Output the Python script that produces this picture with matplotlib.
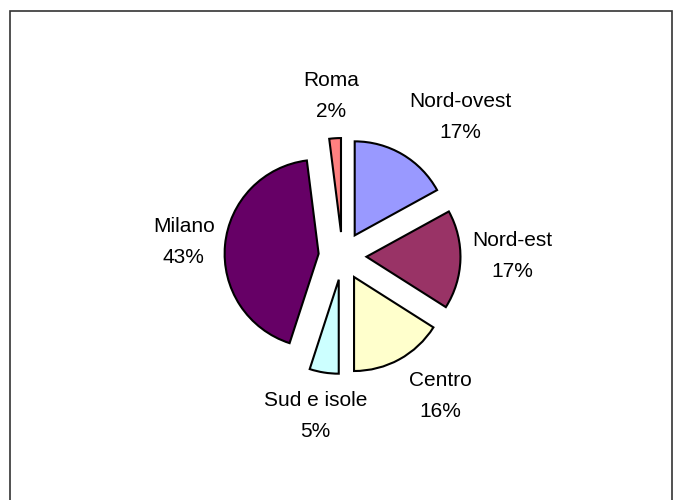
import matplotlib
matplotlib.use('Agg')
import matplotlib.pyplot as plt
from matplotlib.patches import Rectangle

# dati
zone = ['Nord-ovest', 'Nord-est', 'Centro', 'Sud e isole', 'Milano', 'Roma']
quote = [17, 17, 16, 5, 43, 2]
colori = ['#9999FF', '#993366', '#FFFFCC', '#CCFFFF', '#660066', '#FF8080']

# posizione etichette (unita' del grafico, raggio = 1)
pos_etichette = [(1.25, 1.48), (1.81, 0.0), (1.04, -1.49),
                 (-0.29, -1.70), (-1.69, 0.15), (-0.12, 1.70)]

plt.rcParams['font.family'] = ['Liberation Sans', 'DejaVu Sans']

fig = plt.figure(figsize=(6.75, 5), dpi=100)
ax = fig.add_axes([0, 0, 1, 1])

ax.pie(quote, colors=colori, startangle=90, counterclock=False,
       explode=[0.255] * len(quote), radius=1,
       wedgeprops=dict(edgecolor='black', linewidth=1.5))

scala = 94.0
cx, cy = 342.5, 256.0
ax.set_xlim(-cx / scala, (675 - cx) / scala)
ax.set_ylim(-(500 - cy) / scala, cy / scala)
ax.set_aspect('equal')
ax.axis('off')

for nome, q, (x, y) in zip(zone, quote, pos_etichette):
    ax.text(x, y, f'{nome}\n{q}%', ha='center', va='center',
            fontsize=15, linespacing=1.8)

# cornice
fig.patches.append(Rectangle((10 / 675, -0.1), 662 / 675, 1.1 - 11 / 500,
                             transform=fig.transFigure, fill=False,
                             edgecolor='#333333', linewidth=1.2))

fig.savefig('out.png', dpi=100)
